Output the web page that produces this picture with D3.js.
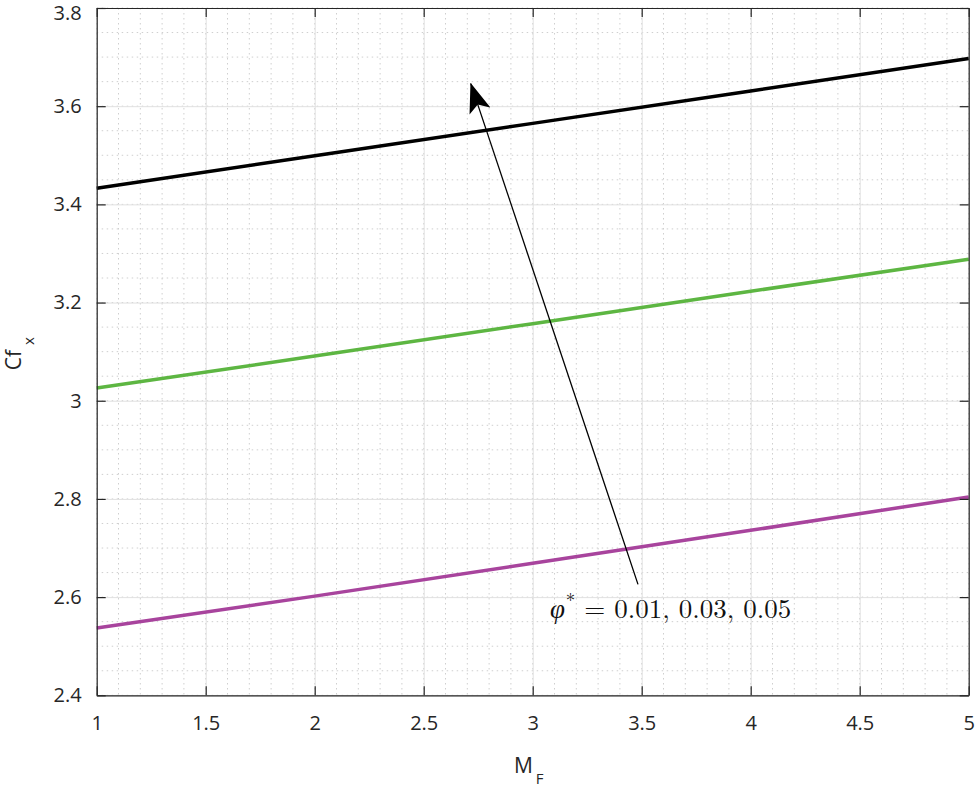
<!DOCTYPE html>
<html>
<head>
<meta charset="utf-8">
<script src="https://cdn.jsdelivr.net/npm/d3@7"></script>
<style>
  body { margin: 0; background: #fff; }
  svg { display: block; }
</style>
</head>
<body>
<div id="chart"></div>
<script>
// Cf_x vs M_F for three values of phi*

const mfValues = [1, 2, 3, 4, 5];
const cfPhi001 = [2.537, 2.602, 2.669, 2.736, 2.804];
const cfPhi003 = [3.026, 3.091, 3.157, 3.223, 3.288];
const cfPhi005 = [3.433, 3.499, 3.565, 3.631, 3.697];
const seriesColors = ['#a8449d', '#5db642', '#000000'];

const xTicks = [1, 1.5, 2, 2.5, 3, 3.5, 4, 4.5, 5];
const yTicks = [2.4, 2.6, 2.8, 3, 3.2, 3.4, 3.6, 3.8];

// annotation arrow (data coords): tail -> head
const arrowFrom = [3.483, 2.626];
const arrowTo = [2.716, 3.646];
const annotationAt = [3.079, 2.557];

const width = 975;
const height = 788;
const margin = { top: 8, right: 6.3, bottom: 92.7, left: 96.7 };
const innerW = width - margin.left - margin.right;
const innerH = height - margin.top - margin.bottom;

const svg = d3.select('#chart').append('svg')
  .attr('width', width)
  .attr('height', height);

const g = svg.append('g')
  .attr('transform', `translate(${margin.left},${margin.top})`);

const x = d3.scaleLinear().domain([1, 5]).range([0, innerW]);
const y = d3.scaleLinear().domain([2.4, 3.8]).range([innerH, 0]);

// minor grid
const xMinor = d3.range(1, 5.0001, 0.1).map(v => +v.toFixed(2));
const yMinor = d3.range(2.4, 3.8001, 0.05).map(v => +v.toFixed(3));

g.append('g')
  .selectAll('line')
  .data(xMinor)
  .join('line')
  .attr('x1', d => x(d)).attr('x2', d => x(d))
  .attr('y1', 0).attr('y2', innerH)
  .attr('stroke', '#cfcfcf')
  .attr('stroke-width', 1)
  .attr('stroke-dasharray', '1.5,3.5');

g.append('g')
  .selectAll('line')
  .data(yMinor)
  .join('line')
  .attr('x1', 0).attr('x2', innerW)
  .attr('y1', d => y(d)).attr('y2', d => y(d))
  .attr('stroke', '#cfcfcf')
  .attr('stroke-width', 1)
  .attr('stroke-dasharray', '1.5,3.5');

// major grid
g.append('g')
  .call(d3.axisBottom(x).tickValues(xTicks).tickSize(innerH).tickFormat(''))
  .call(a => a.select('.domain').remove())
  .selectAll('line').attr('stroke', '#e1e1e1').attr('stroke-width', 1);

g.append('g')
  .call(d3.axisRight(y).tickValues(yTicks).tickSize(innerW).tickFormat(''))
  .call(a => a.select('.domain').remove())
  .selectAll('line').attr('stroke', '#e1e1e1').attr('stroke-width', 1);

// series lines
const line = d3.line()
  .x((d, i) => x(mfValues[i]))
  .y(d => y(d));

[cfPhi001, cfPhi003, cfPhi005].forEach((vals, i) => {
  g.append('path')
    .datum(vals)
    .attr('fill', 'none')
    .attr('stroke', seriesColors[i])
    .attr('stroke-width', 3.5)
    .attr('d', line);
});

// axes with inward ticks
const axisColor = '#262626';
const tickFont = "'Open Sans', 'Noto Sans', sans-serif";

const xAxis = g.append('g')
  .attr('transform', `translate(0,${innerH})`)
  .call(d3.axisBottom(x).tickValues(xTicks).tickSizeInner(-9).tickSizeOuter(0).tickPadding(21)
    .tickFormat(d3.format('')));
const yAxis = g.append('g')
  .call(d3.axisLeft(y).tickValues(yTicks).tickSizeInner(-9).tickSizeOuter(0).tickPadding(15)
    .tickFormat(d3.format('')));
const xTop = g.append('g')
  .call(d3.axisTop(x).tickValues(xTicks).tickSizeInner(-9).tickSizeOuter(0).tickFormat(''));
const yRight = g.append('g')
  .attr('transform', `translate(${innerW},0)`)
  .call(d3.axisRight(y).tickValues(yTicks).tickSizeInner(-9).tickSizeOuter(0).tickFormat(''));

[xAxis, yAxis, xTop, yRight].forEach(a => {
  a.select('.domain').attr('stroke', axisColor).attr('stroke-width', 1.2);
  a.selectAll('.tick line').attr('stroke', axisColor).attr('stroke-width', 1.2);
  a.selectAll('.tick text')
    .attr('fill', axisColor)
    .style('font-family', tickFont)
    .style('font-size', '20px');
});

// keep the top y label inside the picture
yAxis.selectAll('.tick text').filter(d => d === 3.8).attr('dy', '0.55em');

// axis labels
const xLabel = svg.append('text')
  .attr('x', margin.left + innerW / 2 - 4)
  .attr('y', 773)
  .attr('text-anchor', 'middle')
  .attr('fill', axisColor)
  .style('font-family', tickFont)
  .style('font-size', '21px');
xLabel.append('tspan').text('M');
xLabel.append('tspan').attr('dy', 11).attr('dx', 3).style('font-size', '15px').text('F');

const yLabel = svg.append('text')
  .attr('transform', `translate(21,${margin.top + innerH / 2 + 2}) rotate(-90)`)
  .attr('text-anchor', 'middle')
  .attr('fill', axisColor)
  .style('font-family', tickFont)
  .style('font-size', '21px');
yLabel.append('tspan').text('Cf');
yLabel.append('tspan').attr('dy', 13).attr('dx', 5).style('font-size', '15px').text('x');

// annotation arrow
const defs = svg.append('defs');
defs.append('marker')
  .attr('id', 'arrowhead')
  .attr('viewBox', '0 0 30 22')
  .attr('refX', 29)
  .attr('refY', 11)
  .attr('markerWidth', 30)
  .attr('markerHeight', 22)
  .attr('markerUnits', 'userSpaceOnUse')
  .attr('orient', 'auto')
  .append('path')
  .attr('d', 'M0,0 L30,11 L0,22 L7,11 Z')
  .attr('fill', '#000');

g.append('line')
  .attr('x1', x(arrowFrom[0])).attr('y1', y(arrowFrom[1]))
  .attr('x2', x(arrowTo[0])).attr('y2', y(arrowTo[1]))
  .attr('stroke', '#000')
  .attr('stroke-width', 1.3)
  .attr('marker-end', 'url(#arrowhead)');

const note = g.append('text')
  .attr('x', x(annotationAt[0]))
  .attr('y', y(annotationAt[1]))
  .attr('fill', '#111')
  .style('font-family', "'Latin Modern Roman', 'Liberation Serif', 'DejaVu Serif', serif")
  .style('font-size', '27px');
note.append('tspan').style('font-style', 'italic').text('φ');
note.append('tspan').attr('dy', -11).attr('dx', 1).style('font-size', '19px').text('*');
note.append('tspan').attr('dy', 11).text(' = 0.01, 0.03, 0.05');
</script>
</body>
</html>
